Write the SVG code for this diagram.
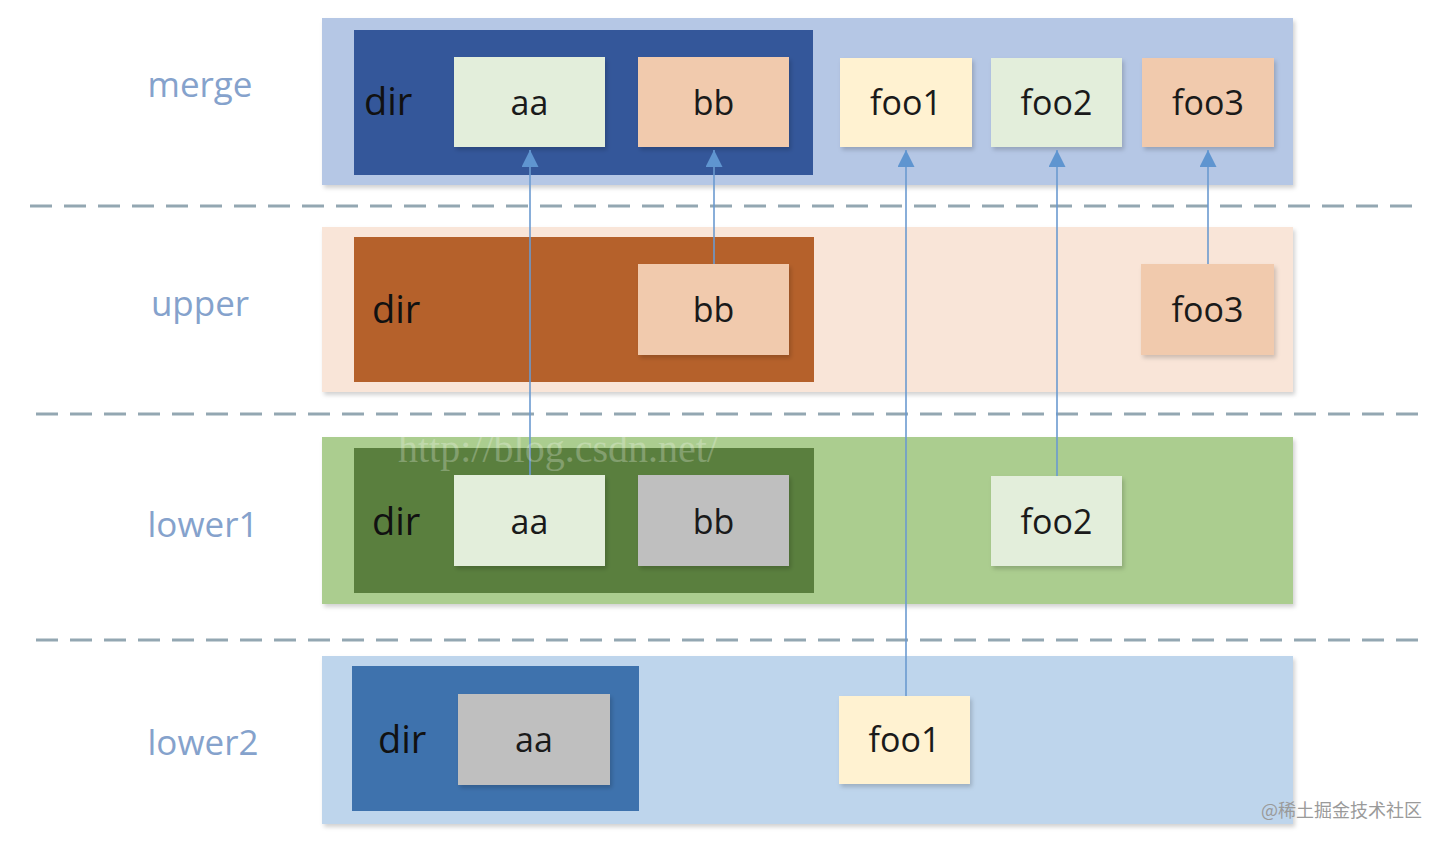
<svg xmlns="http://www.w3.org/2000/svg" width="1446" height="844" viewBox="0 0 1446 844">
<defs>
<filter id="sh" x="-10%" y="-10%" width="125%" height="130%">
<feDropShadow dx="2" dy="3" stdDeviation="2" flood-color="#000" flood-opacity="0.18"/>
</filter>
<marker id="ah" viewBox="0 0 17 17" refX="17" refY="8.5" markerWidth="17" markerHeight="17" markerUnits="userSpaceOnUse" orient="auto">
<path d="M0,0 L17,8.5 L0,17 Z" fill="#5f95d0"/>
</marker>
</defs>
<style>
.lbl{font-family:"Open Sans","Noto Sans","Liberation Sans",sans-serif;font-size:35px;fill:#85a2cc;text-anchor:middle}
.t{font-family:"Open Sans","Noto Sans","Liberation Sans",sans-serif;font-size:34px;fill:#1a1a1a;text-anchor:middle}
.dirt{font-family:"Open Sans","Noto Sans","Liberation Sans",sans-serif;font-size:38px;fill:#111}
.band{filter:url(#sh)}
.box{filter:url(#sh)}
.dash{stroke:#93a7b2;stroke-width:3;stroke-dasharray:22 12;fill:none}
.conn{stroke:#6b9ad0;stroke-width:1.6;fill:none}
</style>
<rect width="1446" height="844" fill="#ffffff"/>

<g id="separators">
<line class="dash" x1="30" y1="206" x2="1420" y2="206"/>
<line class="dash" x1="36" y1="414" x2="1428" y2="414"/>
<line class="dash" x1="36" y1="640" x2="1428" y2="640"/>
</g>

<g id="labels">
<text class="lbl" x="200" y="97">merge</text>
<text class="lbl" x="200" y="316">upper</text>
<text class="lbl" x="203" y="537">lower1</text>
<text class="lbl" x="203" y="755">lower2</text>
</g>

<g id="merge">
<rect class="band" x="322" y="18" width="971" height="167" fill="#b5c7e5"/>
<rect x="354" y="30" width="459" height="145" fill="#34579a"/>
<text class="dirt" x="364" y="115">dir</text>
<g id="merge-aa"><rect class="box" x="454" y="57" width="151" height="90" fill="#e3eedb"/><text class="t" x="529.5" y="115">aa</text></g>
<g id="merge-bb"><rect class="box" x="638" y="57" width="151" height="90" fill="#f1caad"/><text class="t" x="713.5" y="115">bb</text></g>
<g id="merge-foo1"><rect class="box" x="840" y="58" width="132" height="89" fill="#fff2d1"/><text class="t" x="906" y="115">foo1</text></g>
<g id="merge-foo2"><rect class="box" x="991" y="58" width="131" height="89" fill="#e3eedb"/><text class="t" x="1056.5" y="115">foo2</text></g>
<g id="merge-foo3"><rect class="box" x="1142" y="58" width="132" height="89" fill="#f1caad"/><text class="t" x="1208" y="115">foo3</text></g>
</g>

<g id="upper">
<rect class="band" x="322" y="227" width="971" height="165" fill="#f9e5d8"/>
<rect x="354" y="237" width="460" height="145" fill="#b5612b"/>
<text class="dirt" x="372" y="323">dir</text>
<g id="upper-bb"><rect class="box" x="638" y="264" width="151" height="91" fill="#f1caad"/><text class="t" x="713.5" y="322">bb</text></g>
<g id="upper-foo3"><rect class="box" x="1141" y="264" width="133" height="91" fill="#f1caad"/><text class="t" x="1207.5" y="322">foo3</text></g>
</g>

<g id="lower1">
<rect class="band" x="322" y="437" width="971" height="167" fill="#abcd8f"/>
<rect x="354" y="448" width="460" height="145" fill="#5a7f3e"/>
<text class="dirt" x="372" y="535">dir</text>
<g id="lower1-aa"><rect class="box" x="454" y="475" width="151" height="91" fill="#e3eedb"/><text class="t" x="529.5" y="534">aa</text></g>
<g id="lower1-bb"><rect class="box" x="638" y="475" width="151" height="91" fill="#bfbfbf"/><text class="t" x="713.5" y="534">bb</text></g>
<g id="lower1-foo2"><rect class="box" x="991" y="476" width="131" height="90" fill="#e3eedb"/><text class="t" x="1056.5" y="534">foo2</text></g>
</g>

<g id="lower2">
<rect class="band" x="322" y="656" width="971" height="168" fill="#bed5ec"/>
<rect x="352" y="666" width="287" height="145" fill="#3e72ad"/>
<text class="dirt" x="378" y="753">dir</text>
<g id="lower2-aa"><rect class="box" x="458" y="694" width="152" height="91" fill="#bfbfbf"/><text class="t" x="534" y="752">aa</text></g>
<g id="lower2-foo1"><rect class="box" x="839" y="696" width="131" height="88" fill="#fff2d1"/><text class="t" x="904.5" y="752">foo1</text></g>
</g>

<g id="connectors">
<line class="conn" x1="530" y1="475" x2="530" y2="150" marker-end="url(#ah)"/>
<line class="conn" x1="714" y1="264" x2="714" y2="150" marker-end="url(#ah)"/>
<line class="conn" x1="906" y1="696" x2="906" y2="150" marker-end="url(#ah)"/>
<line class="conn" x1="1057" y1="476" x2="1057" y2="150" marker-end="url(#ah)"/>
<line class="conn" x1="1208" y1="264" x2="1208" y2="150" marker-end="url(#ah)"/>
</g>

<g id="watermarks">
<text x="398" y="462" font-family="'Liberation Serif','DejaVu Serif',serif" font-size="40" fill="#ffffff" fill-opacity="0.25">http://blog.csdn.net/</text>
<text x="1422" y="817" text-anchor="end" font-family="'Noto Sans CJK SC','Noto Sans',sans-serif" font-size="18" fill="#9a9a9a">@稀土掘金技术社区</text>
</g>
</svg>
